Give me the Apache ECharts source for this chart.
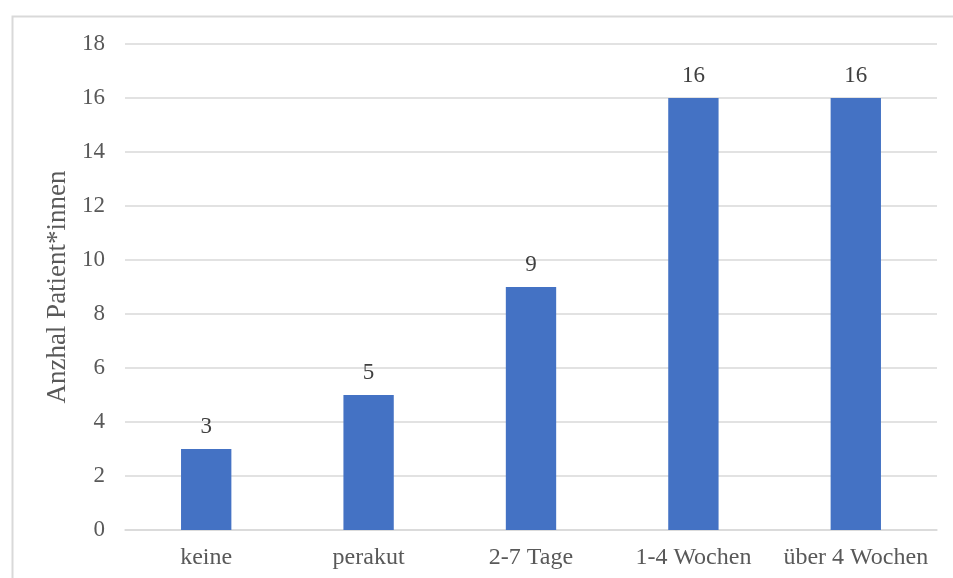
<!DOCTYPE html>
<html>
<head>
<meta charset="utf-8">
<script src="https://cdn.jsdelivr.net/npm/echarts@6/dist/echarts.min.js"></script>
<style>
  html, body { margin: 0; padding: 0; background: #ffffff; }
  #chart { width: 953px; height: 578px; }
</style>
</head>
<body>
<div id="chart"></div>
<script>
// Onset duration categories and patient counts
const categories = ['keine', 'perakut', '2-7 Tage', '1-4 Wochen', 'über 4 Wochen'];
const patientCounts = [3, 5, 9, 16, 16];
const axisName = 'Anzhal Patient*innen';

const serif = '"Liberation Serif", "Times New Roman", serif';
const textColor = '#595959';
const gridColor = '#d9d9d9';

const chart = echarts.init(document.getElementById('chart'));
chart.setOption({
  animation: false,
  backgroundColor: '#ffffff',
  graphic: [{
    type: 'rect',
    left: 10, top: 14,
    shape: { width: 1000, height: 700 },
    style: { fill: 'none', stroke: gridColor, lineWidth: 2 },
    silent: true
  }],
  grid: { left: 125, right: 16, top: 44, bottom: 48 },
  xAxis: {
    type: 'category',
    data: categories,
    axisLine: { show: true, lineStyle: { color: gridColor, width: 1.5 } },
    axisTick: { show: false },
    axisLabel: {
      interval: 0, hideOverlap: false,
      color: textColor, fontFamily: serif, fontSize: 24, margin: 16
    }
  },
  yAxis: {
    type: 'value',
    min: 0, max: 18, interval: 2,
    name: axisName,
    nameLocation: 'middle',
    nameGap: 52,
    nameRotate: 90,
    nameTextStyle: { color: textColor, fontFamily: serif, fontSize: 27 },
    axisLine: { show: false },
    axisTick: { show: false },
    axisLabel: { color: textColor, fontFamily: serif, fontSize: 23, margin: 20 },
    splitLine: { lineStyle: { color: gridColor, width: 1.5 } }
  },
  series: [{
    type: 'bar',
    data: patientCounts,
    barWidth: '31%',
    itemStyle: { color: '#4472c4' },
    label: {
      show: true, position: 'top', distance: 11,
      color: '#404040', fontFamily: serif, fontSize: 23
    }
  }]
});
</script>
</body>
</html>
